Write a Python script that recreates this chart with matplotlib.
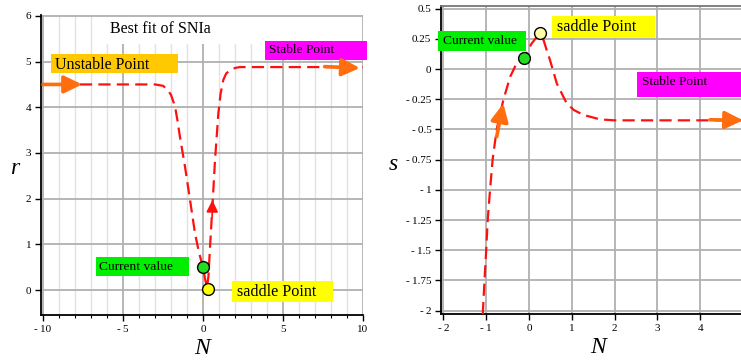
import matplotlib
matplotlib.use("Agg")
import matplotlib.pyplot as plt
from matplotlib.patches import Rectangle
from matplotlib.ticker import MultipleLocator, FuncFormatter

plt.rcParams['font.family'] = ['Liberation Serif', 'DejaVu Serif']
plt.rcParams['mathtext.fontset'] = 'stix'

# ---------------- data ----------------
# left panel: r(N)
N_r = [-10, -3.0, -2.5, -2.2, -2.0, -1.75, -1.6, -1.44, -1.125, -0.81, -0.5, -0.25,
       0.0, 0.125, 0.25, 0.34, 0.44, 0.6, 0.75, 0.96, 1.1, 1.27, 1.45, 1.69, 2.0, 2.3, 10]
r_vals = [4.5, 4.5, 4.47, 4.38, 4.27, 4.02, 3.72, 3.35, 2.70, 1.97, 1.24, 0.82,
          0.5, 0.25, 0.05, 0.3, 0.95, 1.9, 2.84, 3.87, 4.3, 4.6, 4.74, 4.81, 4.86, 4.88, 4.88]
r_current = (0.0, 0.5)
r_saddle = (0.29, 0.02)

# right panel: s(N)
N_s = [-1.08, -1.04, -1.0, -0.965, -0.91, -0.85, -0.755, -0.6, -0.44, -0.29, -0.11,
       0.06, 0.16, 0.25, 0.34, 0.41, 0.49, 0.65, 0.88, 1.05, 1.27, 1.66, 2.0, 5.0]
s_vals = [-2.03, -1.75, -1.5, -1.25, -1.0, -0.75, -0.5, -0.257, -0.064, 0.047, 0.10,
          0.21, 0.255, 0.27, 0.24, 0.16, 0.075, -0.12, -0.284, -0.34, -0.38, -0.417, -0.425, -0.425]
s_current = (-0.11, 0.094)
s_saddle = (0.257, 0.30)

r_yticks = [0, 1, 2, 3, 4, 5, 6]
r_xticks = [-10, -5, 0, 5, 10]
s_yticks = [-2, -1.75, -1.5, -1.25, -1, -0.75, -0.5, -0.25, 0, 0.25, 0.5]
s_xticks = [-2, -1, 0, 1, 2, 3, 4, 5]

RED = '#FF1010'
ORANGE = '#FF6D0F'
GRID = '#B0B0B0'


def fmt(v, pos=None):
    if abs(v) < 1e-9:
        return '0'
    s = ('%g' % abs(v))
    return ('-\u2009' if v < 0 else '') + s


def box(ax, x0, x1, y0, y1, color, text, tx, ty, fs):
    ax.add_patch(Rectangle((x0, y0), x1 - x0, y1 - y0, facecolor=color,
                           edgecolor='none', zorder=6, clip_on=False))
    ax.text(tx, ty, text, fontsize=fs, va='baseline', ha='left', zorder=7,
            clip_on=False)


def arrow(ax, start, end, color, lw=2.6, ms=24):
    ax.annotate('', xy=end, xytext=start,
                arrowprops=dict(arrowstyle='-|>,head_length=0.45,head_width=0.22',
                                color=color, lw=lw, mutation_scale=ms,
                                shrinkA=0, shrinkB=0),
                zorder=8, annotation_clip=False)


fig = plt.figure(figsize=(7.41, 3.62), dpi=100)

# ---------------- left panel ----------------
ax1 = fig.add_axes([41 / 741, (362 - 315) / 362, 322 / 741, 300 / 362])
ax1.set_xlim(-10.125, 10.0)
ax1.set_ylim(-0.547, 6.02)
ax1.xaxis.set_major_locator(MultipleLocator(5))
ax1.xaxis.set_minor_locator(MultipleLocator(1))
ax1.set_yticks(r_yticks)
ax1.set_xticks(r_xticks)
ax1.xaxis.set_major_formatter(FuncFormatter(fmt))
ax1.yaxis.set_major_formatter(FuncFormatter(fmt))
ax1.grid(which='minor', axis='x', color='#E2E2E2', lw=1.0, zorder=0)
ax1.grid(which='major', axis='both', color=GRID, lw=1.3, zorder=0)
ax1.set_axisbelow(True)
for sp in ['top', 'right']:
    ax1.spines[sp].set_visible(False)
for sp in ['left', 'bottom']:
    ax1.spines[sp].set_linewidth(1.3)
ax1.tick_params(which='major', direction='out', length=4, width=1, labelsize=8, pad=3)
ax1.tick_params(which='minor', direction='out', length=2.5, width=0.8)

# title white box
ax1.add_patch(Rectangle((-6.44, 5.38), 16.2, 0.59, facecolor='white', edgecolor='none', zorder=1))
ax1.text(-5.81, 5.63, 'Best fit of SNIa', fontsize=11.5, va='baseline', ha='left', zorder=7)

ax1.plot(N_r, r_vals, color=RED, lw=1.6, ls=(0, (5.5, 2.8)), zorder=4)
arrow(ax1, (-10.0, 4.5), (-7.56, 4.5), ORANGE)
arrow(ax1, (7.6, 4.89), (9.8, 4.86), ORANGE)
arrow(ax1, (0.57, 1.6), (0.59, 1.97), RED, lw=1.2, ms=16)

ax1.plot(*r_current, 'o', ms=8.5, mfc='#22DD22', mec='black', mew=1, zorder=9)
ax1.plot(*r_saddle, 'o', ms=8.5, mfc='#FFFF00', mec='black', mew=1, zorder=9)

box(ax1, -9.5, -1.56, 4.75, 5.16, '#FFC800', 'Unstable Point', -9.25, 4.83, 11.5)
box(ax1, 3.875, 10.25, 5.03, 5.45, '#FF00FF', 'Stable Point', 4.125, 5.18, 9.6)
box(ax1, -6.69, -0.875, 0.306, 0.722, '#00EE00', 'Current value', -6.5, 0.44, 9.7)
box(ax1, 1.81, 8.125, -0.263, 0.197, '#FFFF00', 'saddle Point', 2.125, -0.125, 11.6)

ax1.set_xlabel('N', fontsize=17, style='italic', va='center')
ax1.set_ylabel('r', fontsize=17, style='italic', rotation=0, va='center', ha='center')
ax1.xaxis.set_label_coords(0.5, -0.112)
ax1.yaxis.set_label_coords(-0.081, 0.49)

# ---------------- right panel ----------------
ax2 = fig.add_axes([441 / 741, (362 - 314) / 362, 302 / 741, 308 / 362])
ax2.set_xlim(-2.056, 5.0)
ax2.set_ylim(-2.028, 0.5215)
ax2.set_xticks(s_xticks)
ax2.set_yticks(s_yticks)
ax2.xaxis.set_major_formatter(FuncFormatter(fmt))
ax2.yaxis.set_major_formatter(FuncFormatter(fmt))
ax2.grid(which='major', axis='both', color=GRID, lw=1.3, zorder=0)
ax2.set_axisbelow(True)
ax2.spines['right'].set_visible(False)
ax2.spines['top'].set_color('#777777')
ax2.spines['top'].set_linewidth(1.3)
for sp in ['left', 'bottom']:
    ax2.spines[sp].set_linewidth(1.3)
ax2.tick_params(which='major', direction='out', length=4, width=1, labelsize=8, pad=3)

ax2.plot(N_s, s_vals, color=RED, lw=1.6, ls=(0, (5.5, 2.8)), zorder=4)
arrow(ax2, (4.23, -0.42), (5.0, -0.425), ORANGE)
arrow(ax2, (-0.755, -0.56), (-0.6, -0.285), ORANGE)

ax2.plot(*s_current, 'o', ms=8.5, mfc='#22DD22', mec='black', mew=1, zorder=9)
ax2.plot(*s_saddle, 'o', ms=8.5, mfc='#FFFFA8', mec='black', mew=1, zorder=9)

box(ax2, -2.13, -0.07, 0.149, 0.315, '#00EE00', 'Current value', -2.02, 0.204, 9.7)
box(ax2, 0.537, 2.94, 0.259, 0.441, '#FFFF00', 'saddle Point', 0.647, 0.315, 11.6)
box(ax2, 2.52, 5.1, -0.229, -0.022, '#FF00FF', 'Stable Point', 2.63, -0.132, 9.6)

ax2.set_xlabel('N', fontsize=17, style='italic', va='center')
ax2.set_ylabel('s', fontsize=17, style='italic', rotation=0, va='center', ha='center')
ax2.xaxis.set_label_coords(0.52, -0.11)
ax2.yaxis.set_label_coords(-0.159, 0.487)

fig.savefig('out.png', dpi=100)
